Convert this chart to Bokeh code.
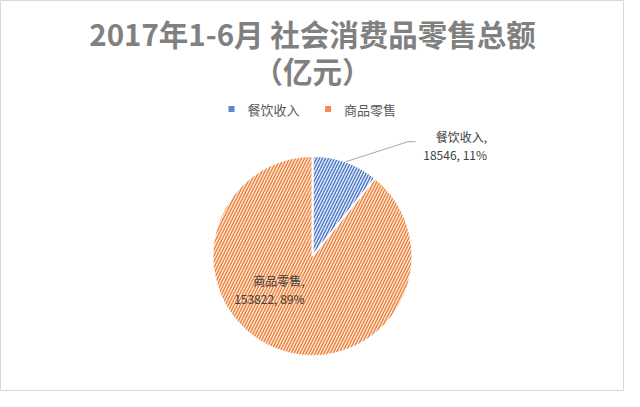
import math
from bokeh.plotting import figure
from bokeh.models import Range1d
from bokeh.core.properties import value
from bokeh.embed import file_html
from bokeh.resources import INLINE

title_line1 = "2017年1-6月 社会消费品零售总额"
title_line2 = "（亿元）"
categories = ["餐饮收入", "商品零售"]
values = [18546, 153822]
percents = [11, 89]
hatch_colors = ["#4472C4", "#ED7D31"]
fill_colors = ["#E4EBF7", "#FCE6D8"]

FONT = "Noto Sans CJK SC"
W, H = 624, 391
R = 100
CY = 255.6  # distance of pie centre from top of figure

total = sum(values)
starts, ends = [], []
a = math.pi / 2
for v in values:
    starts.append(a - 2 * math.pi * v / total)
    ends.append(a)
    a -= 2 * math.pi * v / total

p = figure(width=W, height=H, output_backend="svg", toolbar_location=None,
           x_range=Range1d(-W / 2, W / 2), y_range=Range1d(CY - H, CY),
           min_border=0, outline_line_color="#D9D9D9", outline_line_width=1)
p.axis.visible = False
p.grid.visible = False
p.background_fill_color = "white"
p.border_fill_color = "white"

for i in range(len(categories)):
    p.wedge(x=0, y=0, radius=R, start_angle=starts[i], end_angle=ends[i],
            fill_color=fill_colors[i], line_color="white", line_width=2,
            hatch_pattern="/", hatch_color=hatch_colors[i], hatch_scale=6,
            hatch_weight=1.3)

# legend (horizontal, above the pie)
leg_y = CY - 108.6
leg_glyph_x = [-81, 15.6]
p.scatter(x=leg_glyph_x, y=[leg_y] * 2, marker="square", size=6,
          fill_color=hatch_colors, fill_alpha=0.85, line_color=None)
p.text(x=[gx + 16 for gx in leg_glyph_x], y=[leg_y] * 2, text=categories,
       text_font=value(FONT), text_font_size="13px", text_color="#595959",
       text_align="left", text_baseline="middle")

# titles
p.text(x=[0], y=[CY - 32.7], text=[title_line1], text_font=value(FONT), text_font_size="29.5px",
       text_font_style="bold", text_color="#808080", text_align="center", text_baseline="middle")
p.text(x=[0], y=[CY - 69.2], text=[title_line2], text_font=value(FONT), text_font_size="29.5px",
       text_font_style="bold", text_color="#808080", text_align="center", text_baseline="middle")

# data labels
lab = [f"{categories[i]},\n{values[i]}, {percents[i]}%" for i in range(2)]
p.text(x=[174.5], y=[111], text=[lab[0]], text_font=value(FONT), text_font_size="12px",
       text_color="#404040", text_align="right", text_baseline="middle", text_line_height=1.05)
p.text(x=[-8], y=[-33.6], text=[lab[1]], text_font=value(FONT), text_font_size="12px",
       text_color="#404040", text_align="right", text_baseline="middle", text_line_height=1.05)

# leader line for small slice
mid = (starts[0] + ends[0]) / 2
sx, sy = R * math.cos(mid), R * math.sin(mid)
p.line(x=[sx, 95.5, 103], y=[sy, 114.4, 114.4], line_color="#A6A6A6", line_width=1)

open("out.html", "w").write(file_html(p, INLINE))
